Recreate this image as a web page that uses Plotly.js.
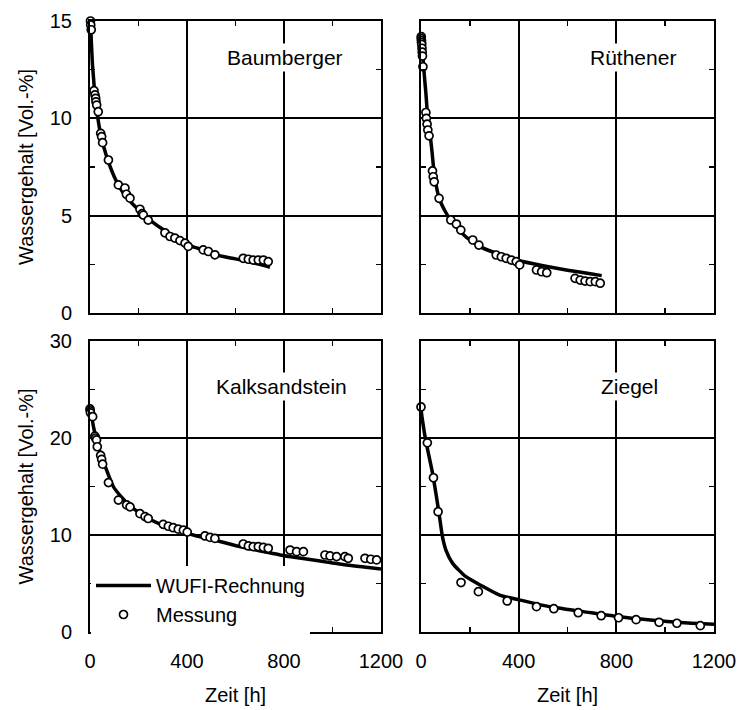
<!DOCTYPE html>
<html>
<head>
<meta charset="utf-8">
<script src="https://cdn.plot.ly/plotly-3.0.1.min.js"></script>
<style>html,body{margin:0;padding:0;background:#fff;}#chart{width:739px;height:710px;}</style>
</head>
<body>
<div id="chart"></div>
<script>
// ---------- data ----------
// Baumberger
const baumMessT = [2, 3, 5, 16.5, 20.6, 23.4, 24.7, 27.5, 34, 44, 48, 52, 76, 117, 144, 150, 165, 206, 215, 220, 240, 309, 330, 350, 371, 392, 405, 467, 488, 515, 632, 653, 673, 694, 715, 735];
const baumMessY = [15.0, 14.8, 14.55, 11.42, 11.2, 11.03, 10.85, 10.68, 10.34, 9.23, 9.06, 8.75, 7.86, 6.58, 6.42, 6.1, 5.9, 5.33, 5.1, 5.03, 4.77, 4.12, 3.93, 3.85, 3.72, 3.59, 3.42, 3.24, 3.16, 2.99, 2.81, 2.76, 2.72, 2.72, 2.72, 2.64];
const baumCalcT = [0, 3, 6, 10, 15, 20, 28, 35, 45, 55, 75, 100, 125, 150, 200, 250, 300, 350, 400, 450, 500, 550, 600, 650, 700, 742];
const baumCalcY = [15.0, 14.6, 13.8, 12.8, 12.0, 11.2, 10.4, 9.8, 9.1, 8.6, 7.8, 7.0, 6.4, 5.95, 5.3, 4.75, 4.3, 3.9, 3.5, 3.3, 3.05, 2.9, 2.78, 2.65, 2.5, 2.35];

// Rüthener
const ruethMessT = [1, 1, 2, 2, 3, 4, 5, 6, 8, 20, 22, 25, 28, 33, 47, 50, 54, 74, 122, 145, 163, 212, 237, 308, 329, 349, 370, 390, 404, 473, 494, 515, 631, 652, 672, 693, 714, 734];
const ruethMessY = [14.2, 14.1, 14.0, 13.9, 13.8, 13.6, 13.4, 13.2, 12.65, 10.3, 10.0, 9.7, 9.4, 9.1, 7.3, 7.0, 6.74, 5.89, 4.78, 4.57, 4.26, 3.75, 3.49, 2.98, 2.89, 2.81, 2.72, 2.64, 2.47, 2.21, 2.12, 2.07, 1.78, 1.69, 1.64, 1.61, 1.61, 1.53];
const ruethCalcT = [0, 5, 10, 15, 20, 26, 35, 45, 54, 74, 100, 120, 150, 185, 250, 320, 400, 500, 600, 700, 740];
const ruethCalcY = [14.2, 13.6, 12.8, 12.0, 11.3, 10.3, 9.4, 8.3, 7.2, 5.9, 5.2, 4.8, 4.35, 3.9, 3.36, 3.02, 2.7, 2.43, 2.2, 2.0, 1.92];

// Kalksandstein
const kalkMessT = [0, 1, 2, 11, 20, 23, 27, 30, 44, 48, 52, 76, 117, 151, 165, 206, 227, 240, 302, 323, 343, 364, 385, 401, 474, 495, 515, 632, 653, 673, 694, 715, 735, 825, 852, 880, 969, 990, 1017, 1051, 1065, 1134, 1158, 1182];
const kalkMessY = [23.0, 22.8, 22.6, 22.2, 20.2, 20.0, 19.8, 19.1, 18.2, 17.8, 17.3, 15.4, 13.6, 13.1, 12.9, 12.2, 11.9, 11.7, 11.1, 10.9, 10.75, 10.6, 10.5, 10.3, 9.9, 9.75, 9.65, 9.07, 8.87, 8.8, 8.8, 8.73, 8.63, 8.45, 8.28, 8.28, 7.94, 7.84, 7.77, 7.77, 7.6, 7.6, 7.5, 7.43];
const kalkCalcT = [0, 5, 14, 27, 40, 62, 96, 130, 165, 234, 300, 371, 440, 509, 580, 646, 715, 784, 850, 921, 990, 1059, 1130, 1200];
const kalkCalcY = [23.0, 22.5, 21.2, 19.8, 18.6, 17.1, 15.0, 13.9, 13.0, 11.8, 11.0, 10.4, 9.9, 9.5, 9.05, 8.65, 8.3, 7.94, 7.67, 7.42, 7.15, 6.9, 6.7, 6.5];

// Ziegel
const ziegMessT = [0, 26, 51, 70, 164, 235, 353, 473, 544, 644, 738, 809, 881, 975, 1048, 1144];
const ziegMessY = [23.2, 19.5, 15.9, 12.4, 5.1, 4.16, 3.2, 2.61, 2.4, 1.99, 1.68, 1.47, 1.27, 1.0, 0.9, 0.65];
const ziegCalcT = [0, 5, 19, 47, 74, 88, 102, 129, 184, 253, 322, 404, 528, 665, 803, 940, 1078, 1200];
const ziegCalcY = [23.0, 22.0, 19.8, 16.4, 12.2, 9.8, 8.45, 7.1, 5.7, 4.7, 3.8, 3.3, 2.6, 2.1, 1.6, 1.24, 0.96, 0.8];

const panelNames = ["Baumberger", "Rüthener", "Kalksandstein", "Ziegel"];
const xTickVals = [0, 400, 800, 1200];
const xTickText = ["0", "400", "800", "1200"];
const yTopTickVals = [0, 5, 10, 15];
const yBotTickVals = [0, 10, 20, 30];
const seriesNames = ["WUFI-Rechnung", "Messung"];
const xTitle = "Zeit [h]";
const yTitle = "Wassergehalt [Vol.-%]";

// ---------- traces ----------
const FONT = '"Liberation Sans", Arial, sans-serif';
const calcSets = [[baumCalcT, baumCalcY], [ruethCalcT, ruethCalcY], [kalkCalcT, kalkCalcY], [ziegCalcT, ziegCalcY]];
const messSets = [[baumMessT, baumMessY], [ruethMessT, ruethMessY], [kalkMessT, kalkMessY], [ziegMessT, ziegMessY]];
const axIds = [["x", "y"], ["x2", "y2"], ["x3", "y3"], ["x4", "y4"]];

const traces = [];
calcSets.forEach((s, i) => {
  traces.push({
    x: s[0], y: s[1], xaxis: axIds[i][0], yaxis: axIds[i][1],
    type: "scatter", mode: "lines", name: seriesNames[0],
    showlegend: i === 2, legendrank: 1,
    line: {color: "#000", width: 3.5, shape: "spline", smoothing: 0.6},
    cliponaxis: false, hoverinfo: "skip"
  });
});
messSets.forEach((s, i) => {
  traces.push({
    x: s[0], y: s[1], xaxis: axIds[i][0], yaxis: axIds[i][1],
    type: "scatter", mode: "markers", name: seriesNames[1],
    showlegend: i === 2, legendrank: 2,
    marker: {symbol: "circle", size: 8, color: "#fff", line: {color: "#000", width: 1.7}},
    cliponaxis: false, hoverinfo: "skip"
  });
});

// ---------- layout ----------
const W = 739, H = 710;
const colL = [90 / W, 381 / W], colR = [421 / W, 714 / W];
const rowT = [(H - 313) / H, (H - 21) / H], rowB = [(H - 632) / H, (H - 341) / H];

function xAxis(domain, anchor, labels) {
  return {
    domain: domain, anchor: anchor, range: [0, 1200],
    tickvals: xTickVals, ticktext: xTickText, showticklabels: labels,
    ticks: "", showgrid: true, gridcolor: "#000", gridwidth: 2,
    zeroline: false, showline: true, linecolor: "#000", linewidth: 2, mirror: "allticks",
    minor: {tickvals: [200, 600, 1000], ticks: "inside", ticklen: 5, tickwidth: 1.5, tickcolor: "#000", showgrid: false},
    tickfont: {family: FONT, size: 20, color: "#000"}, ticklabelstandoff: 10,
    title: labels ? {text: xTitle, font: {family: FONT, size: 20, color: "#000"}, standoff: 17} : {text: ""},
    fixedrange: true
  };
}
function yAxis(domain, anchor, labels, top) {
  const maxV = top ? 15 : 30;
  return {
    domain: domain, anchor: anchor, range: [0, maxV],
    tickvals: top ? yTopTickVals : yBotTickVals, showticklabels: labels,
    ticks: "", showgrid: true, gridcolor: "#000", gridwidth: 2,
    zeroline: false, showline: true, linecolor: "#000", linewidth: 2, mirror: "allticks",
    minor: {tickvals: top ? [2.5, 7.5, 12.5] : [5, 15, 25], ticks: "inside", ticklen: 5, tickwidth: 1.5, tickcolor: "#000", showgrid: false},
    tickfont: {family: FONT, size: 20, color: "#000"}, ticklabelstandoff: 12,
    title: labels ? {text: yTitle, font: {family: FONT, size: 20, color: "#000"}, standoff: 11} : {text: ""},
    fixedrange: true
  };
}

const annPos = [[806, 13.15, "x", "y"], [870, 13.1, "x2", "y2"], [788, 25.3, "x3", "y3"], [854, 25.3, "x4", "y4"]];
const annotations = panelNames.map((n, i) => ({
  text: n, x: annPos[i][0], y: annPos[i][1], xref: annPos[i][2], yref: annPos[i][3],
  showarrow: false, xanchor: "center", yanchor: "middle",
  font: {family: FONT, size: 21, color: "#000"}, bgcolor: "#fff", borderpad: 2
}));

const layout = {
  width: W, height: H,
  margin: {l: 0, r: 0, t: 0, b: 0},
  paper_bgcolor: "#fff", plot_bgcolor: "#fff",
  font: {family: FONT, size: 20, color: "#000"},
  showlegend: true,
  legend: {
    x: 91 / W, y: (H - 566) / H, xanchor: "left", yanchor: "top",
    bgcolor: "#fff", borderwidth: 0, tracegroupgap: 0,
    font: {family: FONT, size: 20, color: "#000"}, itemwidth: 55
  },
  xaxis: xAxis(colL, "y", false),
  yaxis: yAxis(rowT, "x", true, true),
  xaxis2: xAxis(colR, "y2", false),
  yaxis2: yAxis(rowT, "x2", false, true),
  xaxis3: xAxis(colL, "y3", true),
  yaxis3: yAxis(rowB, "x3", true, false),
  xaxis4: xAxis(colR, "y4", true),
  yaxis4: yAxis(rowB, "x4", false, false),
  annotations: annotations
};

Plotly.newPlot("chart", traces, layout, {staticPlot: true, displayModeBar: false});
</script>
</body>
</html>
